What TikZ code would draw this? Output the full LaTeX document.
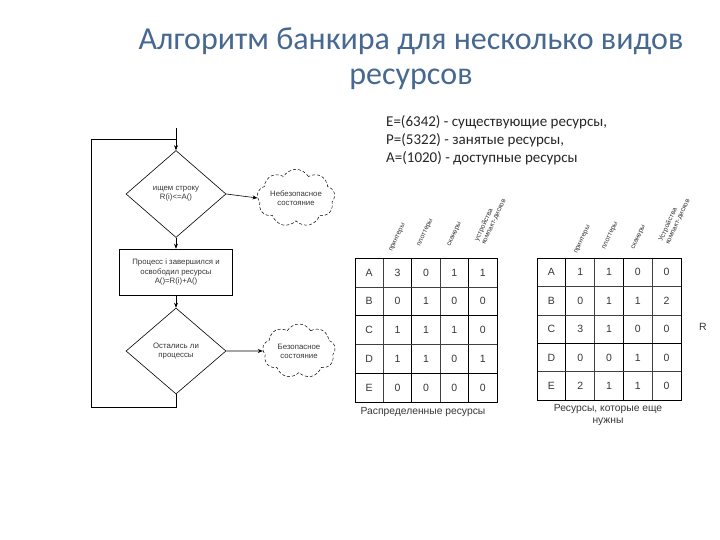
\documentclass[tikz,border=0pt]{standalone}
\usepackage{fontspec}
\setmainfont{Carlito}
\newfontfamily\arialf{Liberation Sans}
\usetikzlibrary{shapes.geometric,shapes.symbols,arrows.meta}
\definecolor{titleblue}{RGB}{70,104,145}
\definecolor{inkgray}{RGB}{55,55,55}
\tikzset{
  flowtxt/.style={font=\arialf\fontsize{7.8}{9.2}\selectfont, text=inkgray, align=center},
  decisionbox/.style={diamond, draw, line width=0.6pt, minimum width=100pt, minimum height=87pt, inner sep=0pt, flowtxt},
  procbox/.style={rectangle, draw, line width=0.6pt, minimum width=113pt, minimum height=46pt, inner sep=1pt, flowtxt},
  cloudbox/.style={cloud, cloud puffs=9, cloud puff arc=120, aspect=1.6, draw, densely dashed, line width=0.5pt, inner sep=0pt, flowtxt},
  conn/.style={line width=0.6pt, -{Stealth[length=5pt,width=4pt]}},
  plainconn/.style={line width=0.6pt},
  celltxt/.style={font=\arialf\fontsize{10.5}{12}\selectfont, text=inkgray},
  headtxt/.style={font=\arialf\fontsize{6.8}{7.6}\selectfont, text=inkgray, rotate=65, anchor=base west, align=left, inner sep=0pt},
  captxt/.style={font=\arialf\fontsize{10.3}{12}\selectfont, text=inkgray, align=center},
  thinline/.style={line width=0.5pt, draw=black!75},
  thickline/.style={line width=1pt, draw=black}
}
\begin{document}
\begin{tikzpicture}[x=1pt,y=-1pt]
\useasboundingbox (0,0) rectangle (720,540);
\fill[white] (0,0) rectangle (720,540);

% Title
\node[font=\fontsize{32}{35}\selectfont, text=titleblue, align=center] (title) at (411,59) {Алгоритм банкира для несколько видов\\ресурсов};

% Text block
\node[font=\fontsize{15}{18}\selectfont, text=black!85, align=left, anchor=north west, inner sep=0pt] (info) at (386,115)
 {E=(6342) - существующие ресурсы,\\P=(5322) - занятые ресурсы,\\A=(1020) - доступные ресурсы};

% Flowchart
\coordinate (start) at (176,128);
\coordinate (loopTR) at (176,139);
\coordinate (loopTL) at (91,139);
\coordinate (loopBL) at (91,407);
\coordinate (loopBR) at (176,407);
\node[decisionbox] (d1) at (176,194) {ищем строку\\R(i)<=A()};
\node[cloudbox, minimum width=72pt, minimum height=48pt] (c1) at (296,198) {Небезопасное\\состояние};
\node[procbox] (p1) at (176,272) {Процесс i завершился и\\освободил ресурсы\\A()=R(i)+A()};
\node[decisionbox, minimum height=86pt] (d2) at (176,351) {Остались ли\\процессы};
\node[cloudbox, minimum width=73pt, minimum height=54pt] (c2) at (299,351) {Безопасное\\состояние};

\draw[plainconn] (start) -- (loopTR);
\draw[conn] (loopTR) -- (d1.north);
\draw[conn] (d1.east) -- (c1.west);
\draw[conn] (d1.south) -- (p1.north);
\draw[conn] (p1.south) -- (d2.north);
\draw[conn] (d2.east) -- (c2.west);
\draw[plainconn] (d2.south) -- (loopBR) -- (loopBL) -- (loopTL) -- (loopTR);

% Table 1
\begin{scope}
\def\xa{355}\def\cw{28.4}\def\ya{258}\def\rh{28.8}
\foreach \i in {1,3} \draw[thinline] (\xa+\i*\cw,\ya) -- (\xa+\i*\cw,\ya+5*\rh);
\foreach \i in {2,4} \draw[thickline] (\xa+\i*\cw,\ya) -- (\xa+\i*\cw,\ya+5*\rh);
\foreach \j in {1,3} \draw[thinline] (\xa,\ya+\j*\rh) -- (\xa+5*\cw,\ya+\j*\rh);
\foreach \j in {2,4} \draw[thickline] (\xa,\ya+\j*\rh) -- (\xa+5*\cw,\ya+\j*\rh);
\draw[thickline] (\xa,\ya) rectangle (\xa+5*\cw,\ya+5*\rh);
\foreach \r [count=\j from 0] in {{A,3,0,1,1},{B,0,1,0,0},{C,1,1,1,0},{D,1,1,0,1},{E,0,0,0,0}}{
  \foreach \v [count=\i from 0] in \r
    \node[celltxt] (ta\j\i) at (\xa+\i*\cw+0.5*\cw,\ya+\j*\rh+0.5*\rh) {\v};
}
\node[headtxt] (ha1) at (392,252) {принтеры};
\node[headtxt] (ha2) at (420,247) {плоттеры};
\node[headtxt] (ha3) at (450,247) {сканеры};
\node[headtxt] (ha4) at (485,245) {устройства\\компакт-дисков};
\node[captxt] (capa) at (423,412) {Распределенные ресурсы};
\end{scope}

% Table 2
\begin{scope}
\def\xa{537}\def\cw{28.8}\def\ya{258}\def\rh{28.4}
\foreach \i in {2,4} \draw[thinline] (\xa+\i*\cw,\ya) -- (\xa+\i*\cw,\ya+5*\rh);
\foreach \i in {1,3} \draw[thickline] (\xa+\i*\cw,\ya) -- (\xa+\i*\cw,\ya+5*\rh);
\foreach \j in {1,2,4} \draw[thinline] (\xa,\ya+\j*\rh) -- (\xa+5*\cw,\ya+\j*\rh);
\foreach \j in {3} \draw[thickline] (\xa,\ya+\j*\rh) -- (\xa+5*\cw,\ya+\j*\rh);
\draw[thickline] (\xa,\ya) rectangle (\xa+5*\cw,\ya+5*\rh);
\foreach \r [count=\j from 0] in {{A,1,1,0,0},{B,0,1,1,2},{C,3,1,0,0},{D,0,0,1,0},{E,2,1,1,0}}{
  \foreach \v [count=\i from 0] in \r
    \node[celltxt] (tb\j\i) at (\xa+\i*\cw+0.5*\cw,\ya+\j*\rh+0.5*\rh) {\v};
}
\node[headtxt] (hb1) at (577,254) {принтеры};
\node[headtxt] (hb2) at (605,250) {плоттеры};
\node[headtxt] (hb3) at (634,250) {сканеры};
\node[headtxt] (hb4) at (669,245) {Устройства\\компакт-дисков};
\node[captxt] (capb) at (608,415) {Ресурсы, которые еще\\нужны};
\end{scope}

\node[celltxt] (rlab) at (703,327) {R};
\end{tikzpicture}
\end{document}
